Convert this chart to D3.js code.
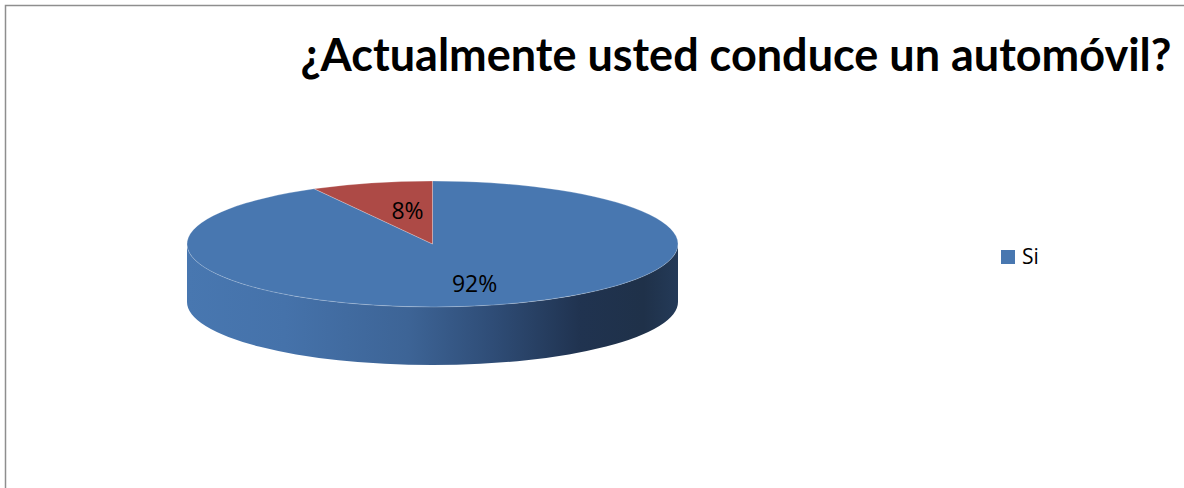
<!DOCTYPE html>
<html>
<head>
<meta charset="utf-8">
<script src="https://cdn.jsdelivr.net/npm/d3@7"></script>
<style>
  html, body { margin: 0; padding: 0; background: #fff; }
  svg { display: block; }
</style>
</head>
<body>
<svg id="chart" width="1184" height="488"></svg>
<script>
// Survey answers and their shares (percent)
const categories = ["Si", "No"];
const values = [92, 8];
const labels = ["92%", "8%"];
const legendItems = ["Si"];
const titleText = "¿Actualmente usted conduce un automóvil?";

const W = 1184, H = 488;
const svg = d3.select("#chart");

// Chart frame
svg.append("rect")
  .attr("x", 5.5).attr("y", 5.5)
  .attr("width", W + 20).attr("height", H + 20)
  .attr("fill", "#fff")
  .attr("stroke", "#8e8e8e")
  .attr("stroke-width", 1.5);

// Title
svg.append("text")
  .attr("x", 736).attr("y", 71)
  .attr("text-anchor", "middle")
  .attr("font-family", "Lato, 'Open Sans', sans-serif")
  .attr("font-weight", "bold")
  .attr("font-size", 45)
  .attr("fill", "#000")
  .text(titleText);

// Tilted pie geometry
const cx = 432.5, cy = 244, rx = 245.5, ry = 63, depth = 58;
const color = d3.scaleOrdinal().domain(categories).range(["#4877b0", "#ad4a46"]);

const pie = d3.pie().sort(null).value(d => d).startAngle(0).endAngle(2 * Math.PI);
const arcs = pie(values);

// project a pie angle (clockwise from 12 o'clock) on the tilted ellipse
const px = (a, f = 1) => cx + rx * f * Math.sin(a);
const py = (a, f = 1) => cy - ry * f * Math.cos(a);

const defs = svg.append("defs");
const grad = defs.append("linearGradient")
  .attr("id", "sideGrad")
  .attr("gradientUnits", "userSpaceOnUse")
  .attr("x1", cx - rx).attr("x2", cx + rx)
  .attr("y1", 0).attr("y2", 0);
[
  [0.00, "#4877b0"],
  [0.20, "#4572aa"],
  [0.45, "#3d6496"],
  [0.62, "#2f4d77"],
  [0.80, "#203350"],
  [0.93, "#1f3149"],
  [1.00, "#243a58"]
].forEach(([o, c]) => grad.append("stop").attr("offset", o).attr("stop-color", c));

// Front side wall: visible from 3 o'clock to 9 o'clock (angles π/2 .. 3π/2)
function sidePath(a0, a1) {
  const s = Math.max(a0, Math.PI / 2), e = Math.min(a1, 3 * Math.PI / 2);
  if (e <= s) return null;
  return `M${px(s)},${py(s)}` +
    `A${rx},${ry} 0 0 1 ${px(e)},${py(e)}` +
    `L${px(e)},${py(e) + depth}` +
    `A${rx},${ry} 0 0 0 ${px(s)},${py(s) + depth}Z`;
}

arcs.forEach((d, i) => {
  const p = sidePath(d.startAngle, d.endAngle);
  if (!p) return;
  svg.append("path")
    .attr("d", p)
    .attr("fill", i === 0 ? "url(#sideGrad)" : d3.color(color(categories[i])).darker(1.2));
});

// Top faces
function topPath(d) {
  const large = (d.endAngle - d.startAngle) > Math.PI ? 1 : 0;
  return `M${cx},${cy}L${px(d.startAngle)},${py(d.startAngle)}` +
    `A${rx},${ry} 0 ${large} 1 ${px(d.endAngle)},${py(d.endAngle)}Z`;
}
svg.selectAll("path.top")
  .data(arcs)
  .join("path")
  .attr("class", "top")
  .attr("d", topPath)
  .attr("fill", (d, i) => color(categories[i]))
  .attr("stroke", "rgba(255,255,255,0.3)")
  .attr("stroke-width", 0.8);

// Data labels placed inside their slices
const labelFx = [0.69, 0.41];
const labelFy = [0.655, 0.54];
svg.selectAll("text.lbl")
  .data(arcs)
  .join("text")
  .attr("class", "lbl")
  .attr("x", (d, i) => px((d.startAngle + d.endAngle) / 2, labelFx[i]))
  .attr("y", (d, i) => py((d.startAngle + d.endAngle) / 2, labelFy[i]))
  .attr("dy", "0.35em")
  .attr("text-anchor", "middle")
  .attr("font-family", "'Open Sans', sans-serif")
  .attr("font-size", 23)
  .attr("fill", "#000")
  .text((d, i) => labels[i]);

// Legend
const legend = svg.selectAll("g.legend")
  .data(legendItems)
  .join("g")
  .attr("class", "legend")
  .attr("transform", (d, i) => `translate(1001,${250 + i * 26})`);
legend.append("rect")
  .attr("width", 14).attr("height", 14)
  .attr("fill", d => color(d));
legend.append("text")
  .attr("x", 21).attr("y", 14)
  .attr("font-family", "'Open Sans', sans-serif")
  .attr("font-size", 21)
  .attr("fill", "#000")
  .text(d => d);
</script>
</body>
</html>
